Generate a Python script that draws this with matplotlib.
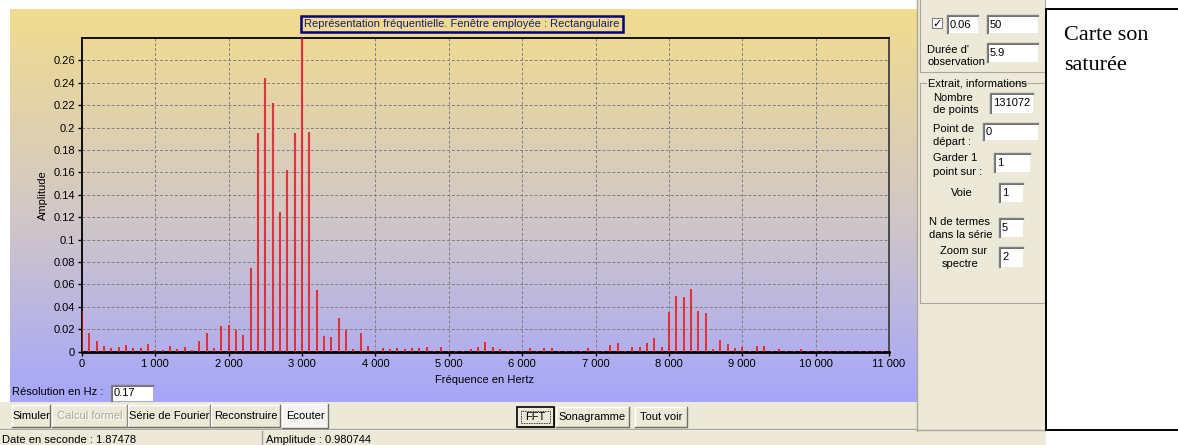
import matplotlib
matplotlib.use('Agg')
import matplotlib.pyplot as plt
from matplotlib.patches import Rectangle
from matplotlib.colors import LinearSegmentedColormap
import numpy as np

W, H = 1178, 445

plt.rcParams.update({
    "font.family": ["Liberation Sans", "DejaVu Sans"],
    "font.size": 8,
})

# Spectrum lines (Hz) and their amplitudes
freq_hz = [
    0, 100, 200, 300, 400, 500, 600, 700, 800, 900,
    1000, 1100, 1200, 1300, 1400, 1500, 1600, 1700, 1800, 1900,
    2000, 2100, 2200, 2300, 2400, 2500, 2600, 2700, 2800, 2900,
    3000, 3100, 3200, 3300, 3400, 3500, 3600, 3700, 3800, 3900,
    4000, 4100, 4200, 4300, 4400, 4500, 4600, 4700, 4800, 4900,
    5000, 5100, 5200, 5300, 5400, 5500, 5600, 5700, 5800, 5900,
    6000, 6100, 6200, 6300, 6400, 6500, 6600, 6700, 6800, 6900,
    7000, 7100, 7200, 7300, 7400, 7500, 7600, 7700, 7800, 7900,
    8000, 8100, 8200, 8300, 8400, 8500, 8600, 8700, 8800, 8900,
    9000, 9100, 9200, 9300, 9400, 9500, 9600, 9700, 9800, 9900,
    10000, 10100, 10200, 10300, 10400, 10500, 10600, 10700, 10800, 10900,
]
amplitude = [
    0.036, 0.0165, 0.0096, 0.0055, 0.0035, 0.0045, 0.0063, 0.003, 0.0036, 0.0066,
    0.0012, 0.0015, 0.005, 0.002, 0.004, 0.0012, 0.0096, 0.017, 0.003, 0.0225,
    0.024, 0.019, 0.015, 0.075, 0.195, 0.244, 0.222, 0.125, 0.162, 0.195,
    0.29, 0.196, 0.0555, 0.0144, 0.0135, 0.030, 0.0195, 0.002, 0.0165, 0.0054,
    0.001, 0.003, 0.002, 0.003, 0.002, 0.003, 0.003, 0.004, 0.001, 0.004,
    0.001, 0.001, 0.001, 0.002, 0.004, 0.009, 0.0045, 0.002, 0.001, 0.001,
    0.001, 0.003, 0.001, 0.003, 0.003, 0.001, 0.001, 0.001, 0.001, 0.003,
    0.001, 0.001, 0.006, 0.0077, 0.001, 0.0046, 0.0046, 0.0077, 0.012, 0.0046,
    0.0354, 0.0495, 0.0485, 0.056, 0.036, 0.0345, 0.0025, 0.010, 0.007, 0.003,
    0.004, 0.001, 0.005, 0.005, 0.001, 0.002, 0.001, 0.001, 0.002, 0.001,
    0.001, 0.001, 0.001, 0.001, 0.001, 0.001, 0.001, 0.001, 0.001, 0.001,
]
x_ticks = [0, 1000, 2000, 3000, 4000, 5000, 6000, 7000, 8000, 9000, 10000, 11000]
y_ticks = [0, 0.02, 0.04, 0.06, 0.08, 0.1, 0.12, 0.14, 0.16, 0.18, 0.2, 0.22, 0.24, 0.26]

FACE = '#ece9d8'

fig = plt.figure(figsize=(W / 100, H / 100), dpi=100)
fig.patch.set_facecolor('white')

# pixel-space layer for the window around the plot
ui = fig.add_axes([0, 0, 1, 1])
ui.axis('off')

grad = np.linspace(0, 1, 256).reshape(-1, 1)
cmap = LinearSegmentedColormap.from_list('panel', ['#f2dc8e', '#d3c9c4', '#a6a6fa'])
ui.imshow(grad, cmap=cmap, extent=(10, 917, 402, 9), aspect='auto', zorder=0)


def field(x, y, w, h, txt):
    ui.add_patch(Rectangle((x, y), w, h, fc='white', ec='none', zorder=2))
    ui.plot([x, x, x + w], [y + h, y, y], color='#808080', lw=1, zorder=3)
    ui.plot([x + 1, x + 1, x + w], [y + h, y + 1, y + 1], color='#404040', lw=0.5, zorder=3)
    ui.text(x + 3, y + h / 2 + 0.5, txt, va='center', ha='left', zorder=4)


def button(x0, x1, y0, y1, label, face=FACE, color='black', focus=False):
    ui.add_patch(Rectangle((x0, y0), x1 - x0, y1 - y0, fc=face, ec='none', zorder=2))
    ui.plot([x0, x0, x1], [y1, y0, y0], color='white', lw=1, zorder=3)
    ui.plot([x0, x1, x1], [y1, y1, y0], color='#716f64', lw=1, zorder=3)
    if focus:
        ui.add_patch(Rectangle((x0, y0), x1 - x0, y1 - y0, fc='none', ec='black', lw=1.2, zorder=3))
        ui.add_patch(Rectangle((x0 + 4, y0 + 4), x1 - x0 - 8, y1 - y0 - 8, fc='none',
                               ec='black', lw=0.6, ls=(0, (1, 1)), zorder=3))
    if color != 'black':
        ui.text((x0 + x1) / 2 + 0.8, (y0 + y1) / 2 + 0.8, label, ha='center', va='center',
                color='white', zorder=4)
    ui.text((x0 + x1) / 2, (y0 + y1) / 2, label, ha='center', va='center', color=color, zorder=5)


# title frame above the plot
ui.text(462, 24, 'Représentation fréquentielle. Fenêtre employée : Rectangulaire',
        ha='center', va='center', color='#1c1c78', zorder=4,
        bbox=dict(boxstyle='square,pad=0.3', fc='none', ec='#000080', lw=1.8))

ui.text(43, 195, 'Amplitude', rotation=90, ha='center', va='center', zorder=4)
ui.text(485, 380, 'Fréquence en Hertz', ha='center', va='center', zorder=4)
ui.text(12, 392, 'Résolution en Hz :', ha='left', va='center', zorder=4)
field(111, 385, 42, 16, '0.17')

# button bar and status bar
ui.add_patch(Rectangle((0, 402), 917, 27, fc=FACE, ec='none', zorder=1))
ui.plot([0, 917], [429, 429], color='#aca899', lw=1, zorder=2)
ui.add_patch(Rectangle((0, 430.5), 1046, 15, fc=FACE, ec='none', zorder=1))
ui.plot([262, 262], [431, 445], color='#aca899', lw=1, zorder=2)
ui.text(2, 440, 'Date en seconde : 1.87478', ha='left', va='center', zorder=4)
ui.text(266, 440, 'Amplitude : 0.980744', ha='left', va='center', zorder=4)

button(12, 50, 405, 427, 'Simuler')
button(52, 127, 405, 427, 'Calcul formel', color='#aca899')
button(128, 210, 405, 427, 'Série de Fourier')
button(211, 280, 405, 427, 'Reconstruire')
button(282, 328, 404, 428, 'Ecouter', face='#f6f5f0')
button(517, 554, 407, 427, 'FFT', focus=True)
button(556, 629, 407, 427, 'Sonagramme')
button(635, 687, 407, 427, 'Tout voir')

# side panel with acquisition settings
ui.add_patch(Rectangle((917, 0), 129, 431, fc=FACE, ec='none', zorder=1))
ui.plot([917, 917], [0, 431], color='#aca899', lw=1, zorder=2)
ui.plot([920, 920, 1045, 1045], [0, 72, 72, 0], color='#aca899', lw=0.8, zorder=2)
ui.plot([920, 920, 1045, 1045, 1006], [83, 303, 303, 83, 83], color='#aca899', lw=0.8, zorder=2)
ui.plot([920, 926], [83, 83], color='#aca899', lw=0.8, zorder=2)
ui.plot([917, 1046], [430, 430], color='#aca899', lw=1, zorder=2)

ui.add_patch(Rectangle((932, 18), 10, 10, fc='white', ec='#808080', lw=0.8, zorder=2))
ui.text(937, 23.5, '✓', ha='center', va='center', family='DejaVu Sans', fontsize=8, zorder=4)
field(947, 15, 31, 18, '0.06')
field(987, 15, 51, 18, '50')
ui.text(927, 50, "Durée d'", ha='left', va='center', zorder=4)
ui.text(927, 62, 'observation', ha='left', va='center', zorder=4)
field(987, 43, 51, 19, '5.9')

ui.text(928, 83, 'Extrait, informations', ha='left', va='center', zorder=4)
ui.text(933, 98, 'Nombre', ha='left', va='center', zorder=4)
ui.text(933, 110, 'de points', ha='left', va='center', zorder=4)
field(990, 93, 43, 20, '131072')
ui.text(933, 129, 'Point de', ha='left', va='center', zorder=4)
ui.text(933, 142, 'départ :', ha='left', va='center', zorder=4)
field(983, 123, 55, 17, '0')
ui.text(933, 158, 'Garder 1', ha='left', va='center', zorder=4)
ui.text(933, 172, 'point sur :', ha='left', va='center', zorder=4)
field(994, 153, 36, 19, '1')
ui.text(951, 193, 'Voie', ha='left', va='center', zorder=4)
field(999, 183, 24, 19, '1')
ui.text(929, 222, 'N de termes', ha='left', va='center', zorder=4)
ui.text(929, 235, 'dans la série', ha='left', va='center', zorder=4)
field(999, 218, 24, 19, '5')
ui.text(940, 251, 'Zoom sur', ha='left', va='center', zorder=4)
ui.text(942, 264, 'spectre', ha='left', va='center', zorder=4)
field(999, 247, 24, 20, '2')

# caption box on the right
ui.add_patch(Rectangle((1046, 9), 140, 421, fc='white', ec='black', lw=1.4, zorder=2))
ui.text(1064, 35, 'Carte son', family='Liberation Serif', fontsize=16, ha='left', va='center', zorder=4)
ui.text(1064, 66, 'saturée', family='Liberation Serif', fontsize=16, ha='left', va='center', zorder=4)

ui.set_xlim(0, W)
ui.set_ylim(H, 0)

# spectrum plot
left, right, top, bottom = 82, 889, 38, 351.7
ax = fig.add_axes([left / W, 1 - bottom / H, (right - left) / W, (bottom - top) / H])
ax.patch.set_alpha(0)
ax.vlines(freq_hz, 0, amplitude, color='#f4a0a0', lw=2.6, alpha=0.45, zorder=2)
ax.vlines(freq_hz, 0, amplitude, color='#d8101e', lw=1.1, zorder=3)
ax.set_xlim(0, 11000)
ax.set_ylim(0, 0.28)
ax.set_xticks(x_ticks)
ax.set_xticklabels([f"{v:,}".replace(',', ' ') for v in x_ticks])
ax.set_yticks(y_ticks)
ax.set_yticklabels([f"{v:.2f}".rstrip('0').rstrip('.') for v in y_ticks])
ax.grid(True, color='#808080', linestyle=(0, (3, 2)), lw=0.7)
ax.set_axisbelow(True)
ax.tick_params(direction='out', length=3, width=1, colors='black', labelsize=8, pad=2)
for side in ['top', 'left']:
    ax.spines[side].set_color('black')
    ax.spines[side].set_linewidth(1.3)
ax.spines['bottom'].set_color('black')
ax.spines['bottom'].set_linewidth(2)
ax.spines['right'].set_color('#404040')
ax.spines['right'].set_linewidth(1.3)

fig.savefig('out.png', dpi=100)
